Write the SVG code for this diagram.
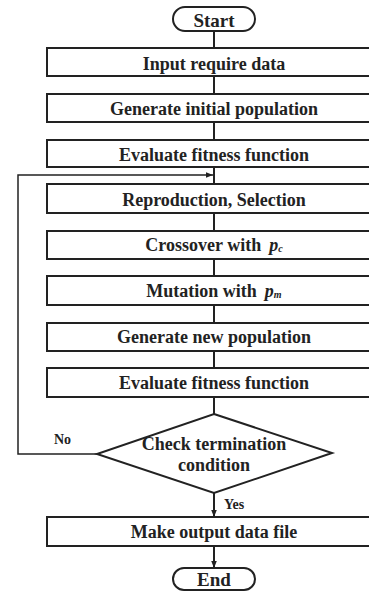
<svg xmlns="http://www.w3.org/2000/svg" width="369" height="592" viewBox="0 0 369 592">
<style>
.b{fill:#fff;stroke:#222;stroke-width:2}
.t{font-family:'Liberation Serif','Times New Roman',Times,serif;font-weight:700;font-size:18px;fill:#222;text-anchor:middle}
.p{font-size:19px}
.s{font-family:'Liberation Serif','Times New Roman',Times,serif;font-weight:700;font-size:14px;fill:#222}
.c{fill:none;stroke:#222;stroke-width:2}
.f{fill:none;stroke:#222;stroke-width:1.5}
</style>
<defs>
<marker id="a2" viewBox="0 0 10 10" refX="10" refY="5" markerWidth="7" markerHeight="7" orient="auto" markerUnits="userSpaceOnUse">
<path d="M0,1 L10,5 L0,9 z" fill="#222"/>
</marker>
</defs>
<rect width="369" height="592" fill="#fff"/>
<g id="connectors">
<line class="c" x1="214" y1="31" x2="214" y2="48"/>
<line class="c" x1="214" y1="76" x2="214" y2="94"/>
<line class="c" x1="214" y1="122" x2="214" y2="140"/>
<line class="c" x1="214" y1="167" x2="214" y2="184"/>
<line class="c" x1="214" y1="213" x2="214" y2="231"/>
<line class="c" x1="214" y1="259" x2="214" y2="276"/>
<line class="c" x1="214" y1="305" x2="214" y2="323"/>
<line class="c" x1="214" y1="351" x2="214" y2="368"/>
<line class="c" x1="214" y1="397" x2="214" y2="414"/>
<line class="c" x1="214" y1="493" x2="214" y2="517" marker-end="url(#a2)"/>
<line class="c" x1="214" y1="546" x2="214" y2="568" marker-end="url(#a2)"/>
<polyline class="f" points="97,454 18,454 18,175 213,175" marker-end="url(#a2)"/>
<text class="s" x="54" y="444">No</text>
<text class="s" x="224" y="509">Yes</text>
</g>
<g id="start">
<rect class="b" x="173" y="7" width="82" height="24" rx="12"/>
<text class="t p" x="214" y="26.5">Start</text>
</g>
<g id="input">
<rect class="b" x="47" y="48" width="334" height="28"/>
<text class="t" x="214" y="69.5">Input require data</text>
</g>
<g id="geninit">
<rect class="b" x="47" y="94" width="334" height="28"/>
<text class="t" x="214" y="115">Generate initial population</text>
</g>
<g id="eval1">
<rect class="b" x="47" y="140" width="334" height="27"/>
<text class="t" x="214" y="160.5">Evaluate fitness function</text>
</g>
<g id="repro">
<rect class="b" x="47" y="184" width="334" height="29"/>
<text class="t" x="214" y="206">Reproduction, Selection</text>
</g>
<g id="cross">
<rect class="b" x="47" y="231" width="334" height="28"/>
<text class="t" x="214" y="250.5">Crossover with<tspan font-style="italic" dx="8">p</tspan><tspan font-style="italic" font-size="10px" dy="1">c</tspan></text>
</g>
<g id="mut">
<rect class="b" x="47" y="276" width="334" height="29"/>
<text class="t" x="214" y="296.5">Mutation with<tspan font-style="italic" dx="8">p</tspan><tspan font-style="italic" font-size="10px" dy="1">m</tspan></text>
</g>
<g id="gennew">
<rect class="b" x="47" y="323" width="334" height="28"/>
<text class="t" x="214" y="343">Generate new population</text>
</g>
<g id="eval2">
<rect class="b" x="47" y="368" width="334" height="29"/>
<text class="t" x="214" y="389">Evaluate fitness function</text>
</g>
<g id="check">
<polygon class="b" points="214,414 332,453 214,493 97,454"/>
<text class="t" x="214" y="450">Check termination</text>
<text class="t" x="214" y="471">condition</text>
</g>
<g id="output">
<rect class="b" x="47" y="517" width="334" height="29"/>
<text class="t" x="214" y="538">Make output data file</text>
</g>
<g id="end">
<rect class="b" x="173" y="568" width="82" height="22" rx="11"/>
<text class="t p" x="214" y="586">End</text>
</g>
</svg>
